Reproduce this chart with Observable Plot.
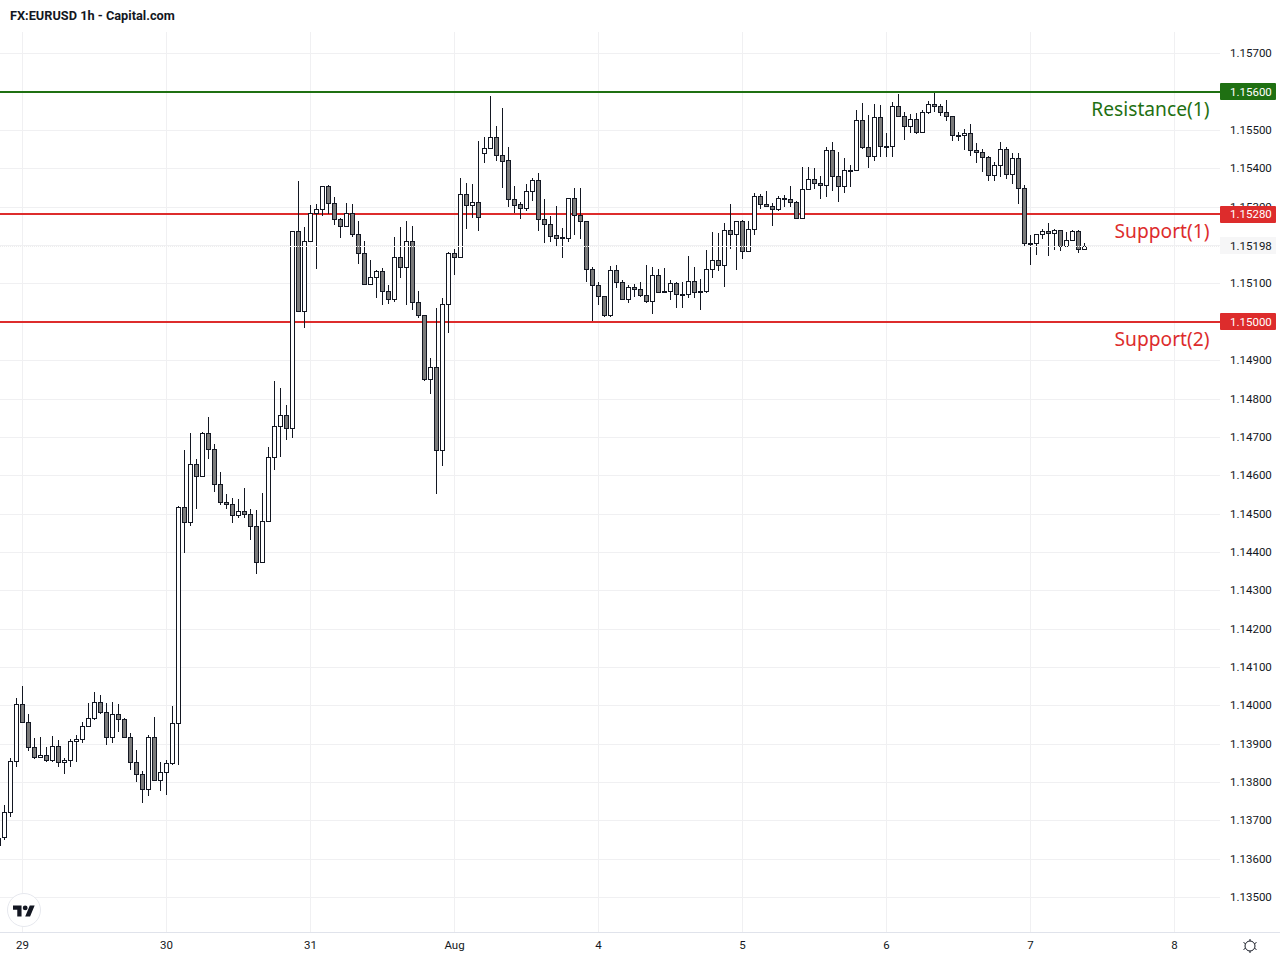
<!DOCTYPE html>
<html><head><meta charset="utf-8">
<script src="https://cdn.jsdelivr.net/npm/d3@7"></script>
<script src="https://cdn.jsdelivr.net/npm/@observablehq/plot@0.6"></script>
<style>
html,body{margin:0;padding:0;background:#fff;overflow:hidden}
#wrap{position:relative;width:1280px;height:960px}
#title{height:32px;box-sizing:border-box;padding:8px 0 0 10px;font:bold 12.75px/15px Roboto,sans-serif;color:#131722}
#logo{position:absolute;left:7px;top:893px}
#gear{position:absolute;left:1242px;top:938px}
svg{display:block}
</style></head><body>
<div id="wrap">
<div id="title">FX:EURUSD 1h - Capital.com</div>
<div id="chart"></div>
<svg id="logo" width="34" height="34" viewBox="0 0 34 34"><circle cx="17" cy="17" r="16.5" fill="#fff" stroke="#e6e8ee"/><g transform="translate(6 10) scale(.61)"><path fill="#131722" d="M14 22H7V11H0V4h14v18zM28 22h-8l7.5-18h8L28 22z"/><circle fill="#131722" cx="20" cy="8" r="4"/></g></svg>
<svg id="gear" width="16" height="16" viewBox="0 0 16 16"><circle cx="8" cy="8" r="5" fill="none" stroke="#131722" stroke-width="1"/><path d="M8 1v2M8 13v2M1.5 4.5l1.7 1M12.8 10.5l1.7 1M1.5 11.5l1.7-1M12.8 5.5l1.7-1" stroke="#131722" stroke-width="1"/></svg>
</div>
<script>
const firstIndex = -1;
const priceHigh = [1.13660,1.13740,1.13863,1.14019,1.14051,1.13978,1.13915,1.13918,1.13892,1.13920,1.13910,1.13863,1.13912,1.13923,1.13957,1.14006,1.14035,1.14027,1.14006,1.14009,1.14004,1.13967,1.13928,1.13884,1.13829,1.13923,1.13970,1.13852,1.13858,1.13999,1.14520,1.14666,1.14710,1.14642,1.14713,1.14752,1.14682,1.14609,1.14551,1.14541,1.14538,1.14567,1.14512,1.14509,1.14554,1.14674,1.14846,1.14827,1.14783,1.15237,1.15367,1.15247,1.15305,1.15307,1.15354,1.15357,1.15325,1.15271,1.15310,1.15307,1.15263,1.15211,1.15161,1.15135,1.15140,1.15096,1.15221,1.15247,1.15263,1.15250,1.15080,1.15018,1.14906,1.15036,1.15062,1.15182,1.15190,1.15375,1.15362,1.15359,1.15472,1.15482,1.15589,1.15511,1.15558,1.15456,1.15354,1.15313,1.15359,1.15375,1.15388,1.15320,1.15276,1.15302,1.15245,1.15323,1.15349,1.15349,1.15263,1.15143,1.15104,1.15067,1.15146,1.15148,1.15109,1.15096,1.15099,1.15104,1.15148,1.15143,1.15138,1.15140,1.15109,1.15104,1.15104,1.15172,1.15143,1.15112,1.15187,1.15234,1.15232,1.15258,1.15307,1.15263,1.15266,1.15263,1.15336,1.15333,1.15341,1.15310,1.15328,1.15331,1.15354,1.15315,1.15404,1.15404,1.15401,1.15380,1.15456,1.15469,1.15443,1.15427,1.15409,1.15553,1.15571,1.15540,1.15568,1.15565,1.15493,1.15573,1.15594,1.15547,1.15542,1.15545,1.15553,1.15576,1.15597,1.15568,1.15579,1.15537,1.15495,1.15503,1.15516,1.15467,1.15451,1.15433,1.15417,1.15469,1.15456,1.15441,1.15441,1.15357,1.15227,1.15229,1.15242,1.15258,1.15242,1.15240,1.15234,1.15240,1.15240,1.15206];
const priceLow = [1.13628,1.13649,1.13709,1.13839,1.13957,1.13881,1.13860,1.13863,1.13852,1.13852,1.13839,1.13821,1.13839,1.13852,1.13902,1.13943,1.13962,1.13978,1.13897,1.13902,1.13931,1.13918,1.13832,1.13800,1.13745,1.13764,1.13806,1.13777,1.13767,1.13845,1.13845,1.14397,1.14468,1.14512,1.14598,1.14642,1.14556,1.14522,1.14512,1.14475,1.14489,1.14489,1.14431,1.14343,1.14371,1.14481,1.14614,1.14648,1.14692,1.14697,1.15028,1.14984,1.15211,1.15138,1.15276,1.15281,1.15253,1.15219,1.15250,1.15221,1.15151,1.15099,1.15099,1.15062,1.15044,1.15046,1.15052,1.15114,1.15044,1.15031,1.15010,1.14846,1.14812,1.14551,1.14624,1.14971,1.15122,1.15169,1.15242,1.15271,1.15237,1.15414,1.15454,1.15420,1.15349,1.15300,1.15284,1.15268,1.15289,1.15315,1.15237,1.15206,1.15208,1.15198,1.15166,1.15208,1.15227,1.15216,1.15104,1.15002,1.15044,1.15013,1.15013,1.15088,1.15059,1.15049,1.15065,1.15065,1.15049,1.15020,1.15078,1.15078,1.15057,1.15036,1.15036,1.15062,1.15062,1.15031,1.15075,1.15114,1.15132,1.15091,1.15190,1.15135,1.15164,1.15185,1.15227,1.15295,1.15302,1.15250,1.15289,1.15300,1.15300,1.15271,1.15268,1.15346,1.15346,1.15320,1.15326,1.15341,1.15313,1.15336,1.15352,1.15396,1.15451,1.15401,1.15420,1.15430,1.15430,1.15430,1.15534,1.15474,1.15493,1.15490,1.15495,1.15542,1.15547,1.15537,1.15524,1.15472,1.15472,1.15448,1.15433,1.15414,1.15391,1.15367,1.15367,1.15378,1.15373,1.15359,1.15307,1.15195,1.15148,1.15174,1.15216,1.15172,1.15187,1.15185,1.15198,1.15213,1.15179,1.15190];
const priceOpen = [1.13636,1.13657,1.13722,1.13855,1.14004,1.13957,1.13892,1.13865,1.13871,1.13858,1.13894,1.13852,1.13858,1.13907,1.13912,1.13946,1.13967,1.14009,1.13983,1.13918,1.13978,1.13965,1.13918,1.13852,1.13821,1.13782,1.13918,1.13806,1.13826,1.13850,1.13954,1.14517,1.14478,1.14629,1.14598,1.14710,1.14668,1.14577,1.14530,1.14525,1.14496,1.14507,1.14499,1.14468,1.14374,1.14481,1.14648,1.14728,1.14757,1.14723,1.15237,1.15028,1.15211,1.15284,1.15294,1.15354,1.15310,1.15268,1.15250,1.15284,1.15229,1.15179,1.15099,1.15117,1.15132,1.15080,1.15059,1.15169,1.15143,1.15211,1.15052,1.15018,1.14851,1.14882,1.14666,1.15046,1.15179,1.15169,1.15333,1.15305,1.15313,1.15441,1.15454,1.15482,1.15435,1.15422,1.15320,1.15307,1.15297,1.15341,1.15370,1.15268,1.15255,1.15227,1.15219,1.15219,1.15323,1.15279,1.15263,1.15138,1.15096,1.15067,1.15018,1.15135,1.15104,1.15059,1.15091,1.15086,1.15070,1.15054,1.15122,1.15080,1.15080,1.15101,1.15070,1.15073,1.15106,1.15080,1.15080,1.15138,1.15161,1.15148,1.15240,1.15229,1.15263,1.15185,1.15242,1.15328,1.15307,1.15302,1.15295,1.15323,1.15320,1.15313,1.15271,1.15346,1.15373,1.15362,1.15357,1.15448,1.15380,1.15354,1.15393,1.15396,1.15527,1.15456,1.15433,1.15534,1.15456,1.15459,1.15563,1.15537,1.15511,1.15529,1.15495,1.15547,1.15568,1.15563,1.15547,1.15537,1.15485,1.15487,1.15493,1.15448,1.15443,1.15430,1.15383,1.15409,1.15451,1.15386,1.15427,1.15349,1.15203,1.15206,1.15229,1.15237,1.15232,1.15240,1.15198,1.15213,1.15237,1.15190];
const priceClose = [1.13654,1.13722,1.13855,1.14004,1.13957,1.13892,1.13865,1.13871,1.13858,1.13894,1.13852,1.13858,1.13907,1.13912,1.13946,1.13967,1.14009,1.13983,1.13918,1.13978,1.13965,1.13918,1.13852,1.13821,1.13782,1.13918,1.13806,1.13826,1.13850,1.13954,1.14517,1.14478,1.14629,1.14598,1.14710,1.14668,1.14577,1.14530,1.14525,1.14496,1.14507,1.14499,1.14468,1.14374,1.14481,1.14648,1.14728,1.14757,1.14723,1.15237,1.15028,1.15211,1.15284,1.15294,1.15354,1.15310,1.15268,1.15250,1.15284,1.15229,1.15179,1.15099,1.15117,1.15132,1.15080,1.15059,1.15169,1.15143,1.15211,1.15052,1.15018,1.14851,1.14882,1.14666,1.15046,1.15179,1.15169,1.15333,1.15305,1.15313,1.15274,1.15454,1.15482,1.15435,1.15420,1.15320,1.15305,1.15297,1.15341,1.15370,1.15268,1.15255,1.15224,1.15219,1.15222,1.15323,1.15279,1.15263,1.15138,1.15096,1.15067,1.15018,1.15135,1.15104,1.15059,1.15091,1.15086,1.15070,1.15054,1.15122,1.15078,1.15078,1.15101,1.15073,1.15073,1.15106,1.15078,1.15078,1.15138,1.15161,1.15148,1.15240,1.15229,1.15263,1.15185,1.15242,1.15328,1.15307,1.15302,1.15295,1.15323,1.15320,1.15313,1.15271,1.15346,1.15373,1.15362,1.15357,1.15448,1.15380,1.15354,1.15396,1.15396,1.15527,1.15456,1.15433,1.15534,1.15459,1.15459,1.15563,1.15537,1.15511,1.15529,1.15495,1.15547,1.15568,1.15563,1.15547,1.15537,1.15487,1.15487,1.15493,1.15448,1.15443,1.15430,1.15383,1.15409,1.15451,1.15386,1.15427,1.15349,1.15206,1.15206,1.15229,1.15237,1.15232,1.15240,1.15198,1.15213,1.15237,1.15190,1.15198];

const dayTicks = [3,27,51,75,99,123,147,171,195];
const dayLabels = ["29","30","31","Aug","4","5","6","7","8"];
const priceTicks = [1.135,1.136,1.137,1.138,1.139,1.14,1.141,1.142,1.143,1.144,1.145,1.146,1.147,1.148,1.149,1.15,1.151,1.152,1.153,1.154,1.155,1.156,1.157];
const hiddenAxisLabels = [1.15,1.152,1.156];
const levelPrices = [1.156,1.1528,1.15];
const levelNames = ["Resistance(1)","Support(1)","Support(2)"];
const levelColors = ["#1f7012","#dd2c2c","#dd2c2c"];
const lastPrice = 1.15198;

const candles = priceOpen.map((o,k)=>({i:firstIndex+k,o,h:priceHigh[k],l:priceLow[k],c:priceClose[k]}));
const levels = levelPrices.map((p,k)=>({p,name:levelNames[k],color:levelColors[k]}));
const axisTicks = priceTicks.filter(p=>!hiddenAxisLabels.includes(p));
const fmt = d3.format(".5f");
const xDomain=[-4/6,(1220-4)/6], tagL=xDomain[1], tagR=(1276-4)/6, tagH=0.000222;
const font="Roboto,sans-serif";

const chart = Plot.plot({
  width:1280,height:928,marginLeft:0,marginRight:60,marginTop:0,marginBottom:28,
  style:{background:"#fff",fontFamily:font,fontSize:"11px",color:"#131722"},
  x:{type:"linear",domain:xDomain},
  y:{type:"linear",domain:[1.134093,1.157556],round:true},
  marks:[
    Plot.ruleY(priceTicks,{stroke:"#f0f0f2",strokeWidth:1}),
    Plot.ruleX(dayTicks,{stroke:"#f0f0f2",strokeWidth:1}),
    Plot.ruleY(levels,{y:"p",stroke:"color",strokeWidth:2,x1:xDomain[0],x2:tagL,dy:-0.5}),
    Plot.ruleX(candles,{x:"i",y1:"l",y2:"h",stroke:"#131722",strokeWidth:1,clip:true}),
    Plot.rect(candles,{x1:d=>d.i-0.25,x2:d=>d.i+0.25+1/6,y1:d=>Math.min(d.o,d.c),y2:d=>Math.max(d.o,d.c),
      fill:d=>d.c>=d.o?"#ffffff":"#7a7a7a",stroke:"#131722",strokeWidth:1,dy:0.5,clip:true}),
    Plot.ruleY([lastPrice],{stroke:"#eeeeee",strokeDasharray:"1,1",strokeWidth:1}),
    Plot.axisY(axisTicks,{anchor:"right",tickSize:0,tickPadding:9.5,tickFormat:fmt,label:null,fill:"#131722",fontSize:11.5}),
    Plot.axisX(dayTicks,{anchor:"bottom",tickSize:0,tickPadding:8,tickFormat:i=>dayLabels[dayTicks.indexOf(i)],label:null,fill:"#131722",fontSize:11.5}),
    Plot.ruleY([1.134093],{stroke:"#e0e3eb",strokeWidth:1,x1:xDomain[0],x2:tagR+1}),
    Plot.rect(levels,{x1:tagL,x2:tagR,y1:d=>d.p-tagH,y2:d=>d.p+tagH,fill:"color",rx:1}),
    Plot.rect([lastPrice],{x1:tagL,x2:tagR,y1:d=>d-tagH,y2:d=>d+tagH,fill:"#f6f6f7"}),
    Plot.text(levels,{x:tagL,y:"p",text:d=>fmt(d.p),fill:"#fff",textAnchor:"start",fontSize:11.5,dx:9.5}),
    Plot.text([lastPrice],{x:tagL,y:d=>d,text:d=>fmt(d),fill:"#131722",textAnchor:"start",fontSize:11.5,dx:9.5}),
    Plot.text(levels,{x:201,y:"p",text:"name",fill:"color",textAnchor:"end",dy:17,dx:-1,fontSize:19.2,fontFamily:"'Noto Sans',sans-serif"})
  ]
});
document.getElementById("chart").appendChild(chart);
</script>
</body></html>
